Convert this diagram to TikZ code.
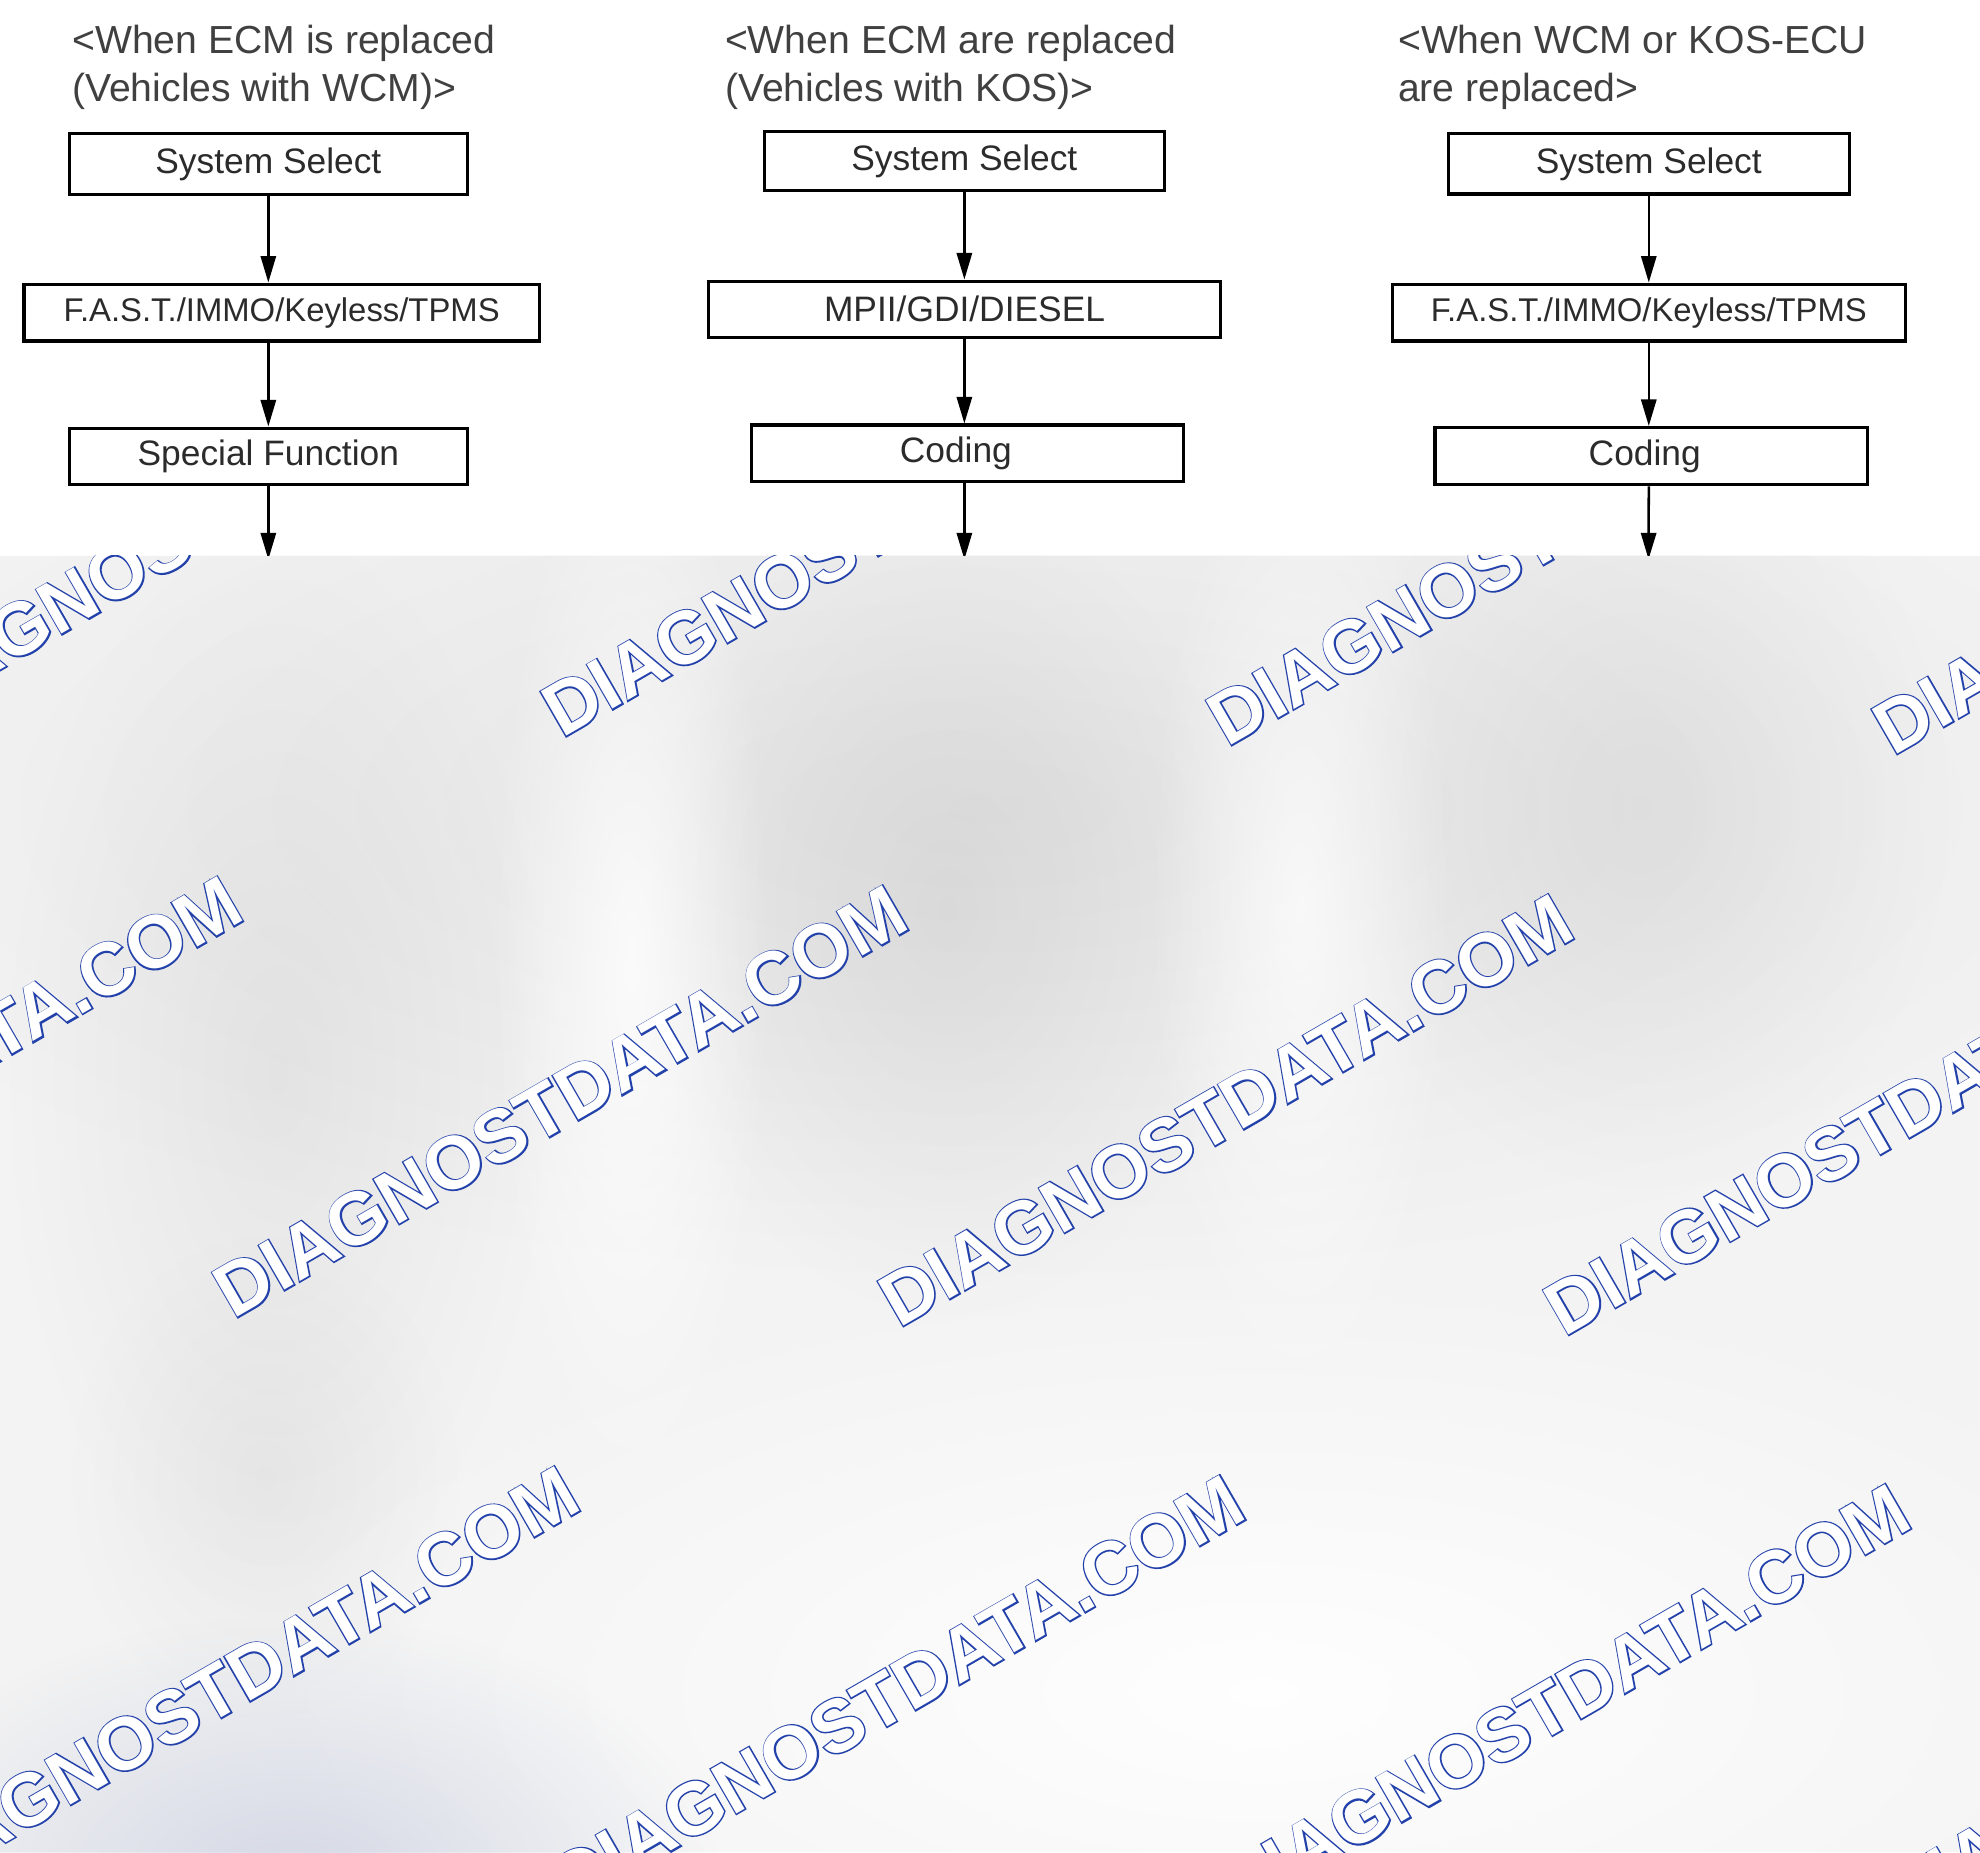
\documentclass[tikz,border=0pt]{standalone}
\usepackage{fontspec}
\setmainfont{Liberation Sans}
\newfontfamily\wmthick{Liberation Sans Bold}[FakeBold=3.6]
\newfontfamily\wmthin{Liberation Sans Bold}
\usetikzlibrary{arrows.meta,fadings}
\definecolor{txt}{HTML}{2B2B2B}
\definecolor{ttl}{HTML}{404040}
\definecolor{wmblue}{RGB}{35,65,170}
\definecolor{bandbase}{HTML}{F3F3F3}
\definecolor{bluegrey}{RGB}{200,206,224}
\tikzfading[name=blob, inner color=transparent!0, outer color=transparent!100]
\tikzset{
  box/.style={draw=black, line width=2.5pt, inner sep=0pt, text=txt,
              font=\fontsize{28}{34}\selectfont},
  flow/.style={line width=2pt, -{Triangle[length=21pt,width=12pt]}},
  ttlnode/.style={anchor=base west, align=left, text=ttl, inner sep=0pt,
              font=\fontsize{31}{38}\selectfont},
  wm/.style={anchor=base west, inner sep=0pt, rotate=30},
  cloud/.style={path fading=blob, fill opacity=#1},
}
\newcommand{\wmark}[3]{%
  \node[wm, text=wmblue, font=\wmthick\fontsize{59}{59}\selectfont] at (#1,#2) {DIAGNOSTDATA.COM};%
  \node[wm, text=white, font=\wmthin\fontsize{59}{59}\selectfont] (#3) at (#1,#2) {DIAGNOSTDATA.COM};}
\begin{document}
\begin{tikzpicture}[x=1pt,y=-1pt]
\useasboundingbox (0,0) rectangle (1568,1467);
\fill[white] (0,0) rectangle (1568,1467);

% titles
\node[ttlnode] (t1) at (57,80) {<When ECM is replaced\\(Vehicles with WCM)>};
\node[ttlnode] (t2) at (574,80) {<When ECM are replaced\\(Vehicles with KOS)>};
\node[ttlnode] (t3) at (1107,80) {<When WCM or KOS-ECU\\are replaced>};

% column 1
\node[box, minimum width=315pt, minimum height=48pt] (s1) at (212.5,130) {System Select};
\node[box, minimum width=408pt, minimum height=45pt, font=\fontsize{26}{32}\selectfont] (f1) at (223,247.5) {F.A.S.T./IMMO/Keyless/TPMS};
\node[box, minimum width=315pt, minimum height=45pt] (p1) at (212.5,361.5) {Special Function};
\coordinate (e1) at (212.5,443);
\draw[flow] (s1.south) -- (s1.south |- f1.north);
\draw[flow] (p1.north |- f1.south) -- (p1.north);
\draw[flow] (p1.south) -- (e1);

% column 2
\node[box, minimum width=316.6pt, minimum height=47pt] (s2) at (763.7,127.5) {System Select};
\node[box, minimum width=405.7pt, minimum height=44.4pt] (f2) at (763.8,244.8) {MPII/GDI/DIESEL};
\node[box, minimum width=342pt, minimum height=44.4pt] (c2) at (766,358.8) {\hspace*{-18pt}Coding};
\coordinate (e2) at (763.7,443);
\draw[flow] (s2.south) -- (s2.south |- f2.north);
\draw[flow] (s2.south |- f2.south) -- (s2.south |- c2.north);
\draw[flow] (s2.south |- c2.south) -- (e2);

% column 3
\node[box, minimum width=317.4pt, minimum height=47.6pt] (s3) at (1305.7,129.8) {System Select};
\node[box, minimum width=406pt, minimum height=45pt, font=\fontsize{26}{32}\selectfont] (f3) at (1305.7,247.5) {F.A.S.T./IMMO/Keyless/TPMS};
\node[box, minimum width=342.3pt, minimum height=45.4pt] (c3) at (1307.5,361.3) {\hspace*{-10pt}Coding};
\coordinate (e3) at (1305.5,443);
\draw[flow] (s3.south) -- (s3.south |- f3.north);
\draw[flow] (s3.south |- f3.south) -- (s3.south |- c3.north);
\draw[flow] (s3.south |- c3.south) -- (e3);

% grey watermark band
\begin{scope}
\clip (0,440) rectangle (1568,1467);
\fill[bandbase] (0,440) rectangle (1568,1467);
\fill[black, cloud=0.06] (784,640) ellipse (1000pt and 380pt);
\fill[black, cloud=0.06] (750,720) ellipse (240pt and 330pt);
\fill[black, cloud=0.06] (1300,640) ellipse (250pt and 310pt);
\fill[black, cloud=0.05] (220,850) ellipse (220pt and 440pt);
\fill[black, cloud=0.04] (210,1170) ellipse (160pt and 200pt);
\fill[white, cloud=0.8] (500,760) ellipse (110pt and 430pt);
\fill[white, cloud=0.7] (1030,720) ellipse (120pt and 400pt);
\fill[white, cloud=0.95] (1000,1340) ellipse (820pt and 340pt);
\fill[bluegrey, cloud=0.7] (230,1490) ellipse (340pt and 210pt);
% watermarks
\wmark{-82}{578}{wa0}
\wmark{445}{585}{wa1}
\wmark{972}{592}{wa2}
\wmark{1499}{599}{wa3}
\wmark{-342}{1038}{wb0}
\wmark{185}{1045}{wb1}
\wmark{712}{1052}{wb2}
\wmark{1239}{1059}{wb3}
\wmark{-75}{1505}{wc0}
\wmark{452}{1512}{wc1}
\wmark{979}{1519}{wc2}
\wmark{1506}{1526}{wc3}
\end{scope}
\end{tikzpicture}
\end{document}
